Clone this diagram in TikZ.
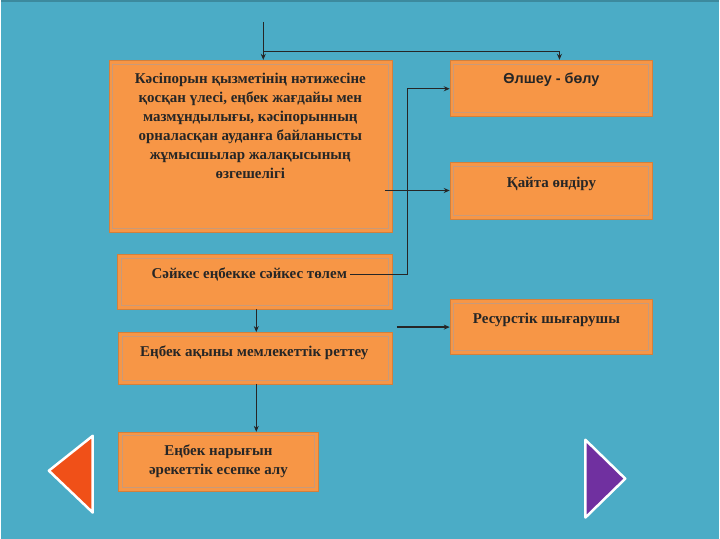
\documentclass[tikz,border=0pt]{standalone}
\usepackage{fontspec}
\setmainfont{Liberation Serif}
\newfontfamily\sansf{Liberation Sans}
\definecolor{bg}{HTML}{4BACC6}
\definecolor{org}{HTML}{F79646}
\definecolor{inl}{HTML}{C89A7A}
\definecolor{navr}{HTML}{F05018}
\definecolor{navp}{HTML}{7030A0}
\usetikzlibrary{arrows.meta}
\tikzset{
 box/.style={fill=org,draw=org!85!black,line width=0.4pt},
 inbox/.style={draw=inl,line width=0.6pt},
 txt/.style={font=\bfseries\fontsize{15}{19}\selectfont,align=center,text=black!85},
 conn/.style={draw=black!85,line width=1.2pt},
 arr/.style={conn,-{Stealth[length=6pt,width=5pt]}}
}
\begin{document}
\begin{tikzpicture}[x=1pt,y=-1pt]
\fill[bg] (0,0) rectangle (720,540);
\draw[bg!80!black,line width=2pt] (0,1) -- (720,1);
% boxes
\foreach \n/\a/\b/\c/\d in {A/108/60/392/233,B/450/60/653/117,C/450/163/653/220,D/117/255/392/310,E/450/300/653/355,F/118/333/392/385,G/118/433/318/493}{
 \draw[box] (\a,\b) rectangle (\c,\d);
 \draw[inbox] (\a+4,\b+4) rectangle (\c-4,\d-4);
 \coordinate (\n nw) at (\a,\b);
}
\node[txt,anchor=north] (ta) at (250,70) {Кәсіпорын қызметінің нәтижесіне\\қосқан үлесі, еңбек жағдайы мен\\мазмұндылығы, кәсіпорынның\\орналасқан ауданға байланысты\\жұмысшылар жалақысының\\өзгешелігі};
\node[txt,font=\sansf\bfseries\fontsize{14.5}{17}\selectfont] (tb) at (552,80) {Өлшеу - бөлу};
\node[txt] (tc) at (552,184) {Қайта өндіру};
\node[txt] (td) at (249,275) {Сәйкес еңбекке сәйкес төлем};
\node[txt] (te) at (547,321) {Ресурстік шығарушы};
\node[txt] (tf) at (254,354) {Еңбек ақыны мемлекеттік реттеу};
\node[txt] (tg) at (218,463) {Еңбек нарығын\\әрекеттік есепке алу};
% connector coordinates
\coordinate (top) at (263,22);
\coordinate (aTop) at (263,60);
\coordinate (j1) at (263,52);
\coordinate (j2) at (560,52);
\coordinate (bTop) at (560,60);
\coordinate (dR) at (350,275);
\coordinate (v1) at (408,275);
\coordinate (v2) at (408,89);
\coordinate (bL) at (450,89);
\coordinate (aR) at (385,191);
\coordinate (cL) at (450,191);
\coordinate (dB) at (256,310);
\coordinate (fT) at (256,333);
\coordinate (fB) at (256,385);
\coordinate (gT) at (256,433);
\coordinate (eS) at (397,328);
\coordinate (eL) at (450,328);
\draw[arr] (top) -- (aTop);
\draw[arr] (j1) -- (j2) -- (bTop);
\draw[arr] (dR) -- (v1) -- (v2) -- (bL);
\draw[arr] (aR) -- (cL);
\draw[arr,line width=0.8pt] (dB) -- (fT);
\draw[arr,line width=0.8pt] (fB) -- (gT);
\draw[arr] (eS) -- (eL);
% navigation triangles
\draw[white,line width=2.5pt,fill=navr,line join=round] (48,472) -- (92,437) -- (92,514) -- cycle;
\draw[white,line width=2.5pt,fill=navp,line join=round] (586,441) -- (586,519) -- (626,480) -- cycle;
\end{tikzpicture}
\end{document}
